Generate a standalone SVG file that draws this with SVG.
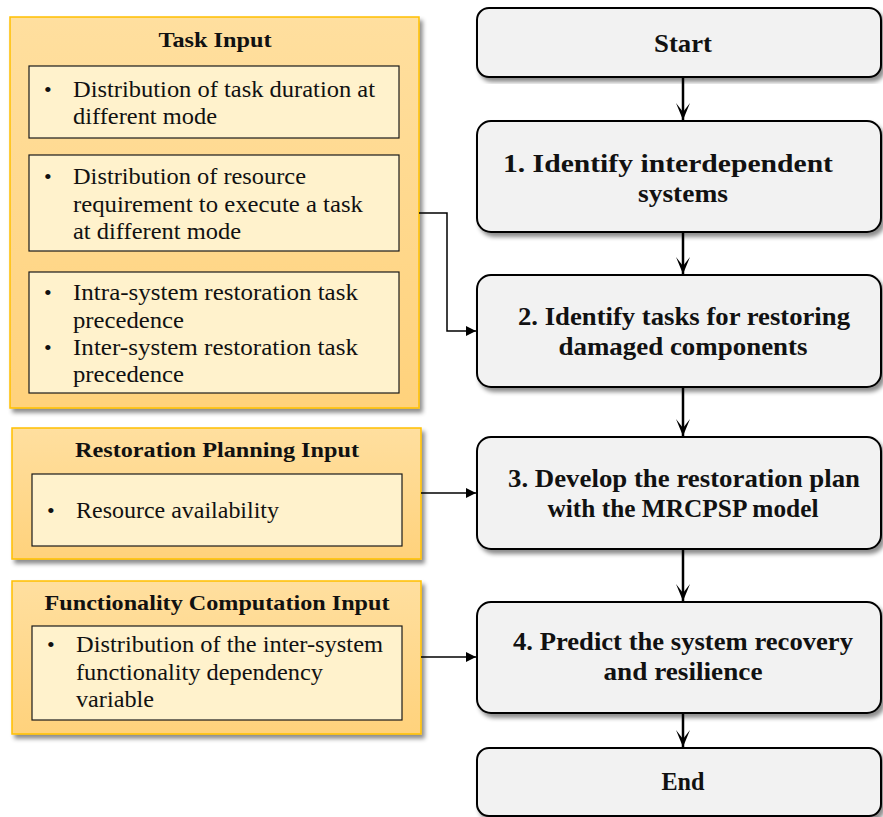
<svg xmlns="http://www.w3.org/2000/svg" width="883" height="817" viewBox="0 0 883 817">
  <defs>
    <linearGradient id="gold" x1="0" y1="0" x2="0" y2="1">
      <stop offset="0" stop-color="#FFDF9F"/>
      <stop offset="1" stop-color="#FFD27C"/>
    </linearGradient>
    <filter id="shadow" x="-5%" y="-5%" width="115%" height="115%">
      <feDropShadow dx="3" dy="4" stdDeviation="2" flood-color="#000" flood-opacity="0.45"/>
    </filter>
    <marker id="headDown" viewBox="0 0 17 14" refX="17" refY="7" markerWidth="17" markerHeight="14" markerUnits="userSpaceOnUse" orient="auto">
      <path d="M0,0 L17,7 L0,14 L9,7 Z" fill="#000"/>
    </marker>
    <marker id="headSmall" viewBox="0 0 10 10" refX="10" refY="5" markerWidth="10" markerHeight="10" markerUnits="userSpaceOnUse" orient="auto">
      <path d="M0,0 L10,5 L0,10 Z" fill="#000"/>
    </marker>
  </defs>
  <style>
    .outer { fill: url(#gold); stroke: #FFC000; stroke-width: 1.5; filter: url(#shadow); }
    .inner { fill: #FFF2CC; stroke: #1a1a1a; stroke-width: 1.2; }
    .step { fill: #F2F2F2; stroke: #000; stroke-width: 2; filter: url(#shadow); }
    .ttl { font-family: "Liberation Serif", "DejaVu Serif", serif; font-weight: bold; font-size: 22px; fill: #111; text-anchor: middle; }
    .body { font-family: "Liberation Serif", "DejaVu Serif", serif; font-size: 22.5px; fill: #111; }
    .bul { font-family: "Liberation Serif", serif; font-size: 22px; fill: #111; }
    .stxt { font-family: "Liberation Serif", "DejaVu Serif", serif; font-weight: bold; font-size: 24.5px; fill: #111; text-anchor: middle; }
    .conn { fill: none; stroke: #000; stroke-width: 2.5; }
    .connThin { fill: none; stroke: #000; stroke-width: 1.5; }
  </style>

  <g id="task-input">
    <rect class="outer" x="10" y="17" width="409" height="391"/>
    <text class="ttl" x="215" y="47" textLength="113" lengthAdjust="spacingAndGlyphs">Task Input</text>
    <rect class="inner" x="29" y="66" width="370" height="72"/>
    <text class="bul" x="44" y="97">•</text>
    <text class="body" x="73" y="97" textLength="302" lengthAdjust="spacingAndGlyphs">Distribution of task duration at</text>
    <text class="body" x="73" y="124" textLength="144" lengthAdjust="spacingAndGlyphs">different mode</text>
    <rect class="inner" x="29" y="155" width="370" height="96"/>
    <text class="bul" x="44" y="184">•</text>
    <text class="body" x="73" y="184" textLength="233" lengthAdjust="spacingAndGlyphs">Distribution of resource</text>
    <text class="body" x="73" y="212" textLength="290" lengthAdjust="spacingAndGlyphs">requirement to execute a task</text>
    <text class="body" x="73" y="239" textLength="168" lengthAdjust="spacingAndGlyphs">at different mode</text>
    <rect class="inner" x="29" y="272" width="370" height="121"/>
    <text class="bul" x="44" y="300">•</text>
    <text class="body" x="73" y="300" textLength="285" lengthAdjust="spacingAndGlyphs">Intra-system restoration task</text>
    <text class="body" x="73" y="328" textLength="111" lengthAdjust="spacingAndGlyphs">precedence</text>
    <text class="bul" x="44" y="355">•</text>
    <text class="body" x="73" y="355" textLength="285" lengthAdjust="spacingAndGlyphs">Inter-system restoration task</text>
    <text class="body" x="73" y="382" textLength="111" lengthAdjust="spacingAndGlyphs">precedence</text>
  </g>

  <g id="restoration-planning-input">
    <rect class="outer" x="12" y="428" width="409" height="131"/>
    <text class="ttl" x="217" y="457" textLength="284" lengthAdjust="spacingAndGlyphs">Restoration Planning Input</text>
    <rect class="inner" x="32" y="474" width="370" height="72"/>
    <text class="bul" x="47" y="518">•</text>
    <text class="body" x="76" y="518" textLength="203" lengthAdjust="spacingAndGlyphs">Resource availability</text>
  </g>

  <g id="functionality-computation-input">
    <rect class="outer" x="12" y="581" width="409" height="153"/>
    <text class="ttl" x="217" y="610" textLength="345" lengthAdjust="spacingAndGlyphs">Functionality Computation Input</text>
    <rect class="inner" x="32" y="626" width="370" height="94"/>
    <text class="bul" x="47" y="652">•</text>
    <text class="body" x="76" y="652" textLength="307" lengthAdjust="spacingAndGlyphs">Distribution of the inter-system</text>
    <text class="body" x="76" y="680" textLength="247" lengthAdjust="spacingAndGlyphs">functionality dependency</text>
    <text class="body" x="76" y="707" textLength="78" lengthAdjust="spacingAndGlyphs">variable</text>
  </g>

  <g id="start">
    <rect class="step" x="477" y="8" width="404" height="69" rx="12" ry="12"/>
    <text class="stxt" x="683" y="52" textLength="58" lengthAdjust="spacingAndGlyphs">Start</text>
  </g>

  <g id="step1">
    <rect class="step" x="477" y="121" width="404" height="111" rx="14" ry="14"/>
    <text class="stxt" x="668" y="172" textLength="330" lengthAdjust="spacingAndGlyphs">1. Identify interdependent</text>
    <text class="stxt" x="683" y="202" textLength="90" lengthAdjust="spacingAndGlyphs">systems</text>
  </g>

  <g id="step2">
    <rect class="step" x="477" y="275" width="404" height="112" rx="14" ry="14"/>
    <text class="stxt" x="684" y="325" textLength="332" lengthAdjust="spacingAndGlyphs">2. Identify tasks for restoring</text>
    <text class="stxt" x="683" y="355" textLength="249" lengthAdjust="spacingAndGlyphs">damaged components</text>
  </g>

  <g id="step3">
    <rect class="step" x="477" y="437" width="404" height="112" rx="14" ry="14"/>
    <text class="stxt" x="684" y="487" textLength="352" lengthAdjust="spacingAndGlyphs">3. Develop the restoration plan</text>
    <text class="stxt" x="683" y="517" textLength="271" lengthAdjust="spacingAndGlyphs">with the MRCPSP model</text>
  </g>

  <g id="step4">
    <rect class="step" x="477" y="602" width="404" height="111" rx="14" ry="14"/>
    <text class="stxt" x="683" y="650" textLength="340" lengthAdjust="spacingAndGlyphs">4. Predict the system recovery</text>
    <text class="stxt" x="683" y="680" textLength="159" lengthAdjust="spacingAndGlyphs">and resilience</text>
  </g>

  <g id="end">
    <rect class="step" x="477" y="748" width="404" height="68" rx="12" ry="12"/>
    <text class="stxt" x="683" y="790" textLength="43" lengthAdjust="spacingAndGlyphs">End</text>
  </g>

  <g id="connectors">
    <line class="conn" x1="683" y1="78" x2="683" y2="120" marker-end="url(#headDown)"/>
    <line class="conn" x1="683" y1="233" x2="683" y2="274" marker-end="url(#headDown)"/>
    <line class="conn" x1="683" y1="388" x2="683" y2="436" marker-end="url(#headDown)"/>
    <line class="conn" x1="683" y1="550" x2="683" y2="601" marker-end="url(#headDown)"/>
    <line class="conn" x1="683" y1="714" x2="683" y2="747" marker-end="url(#headDown)"/>
    <path class="connThin" d="M419,213 H447 V331 H476" marker-end="url(#headSmall)"/>
    <line class="connThin" x1="421" y1="493" x2="476" y2="493" marker-end="url(#headSmall)"/>
    <line class="connThin" x1="421" y1="657" x2="476" y2="657" marker-end="url(#headSmall)"/>
  </g>
</svg>
